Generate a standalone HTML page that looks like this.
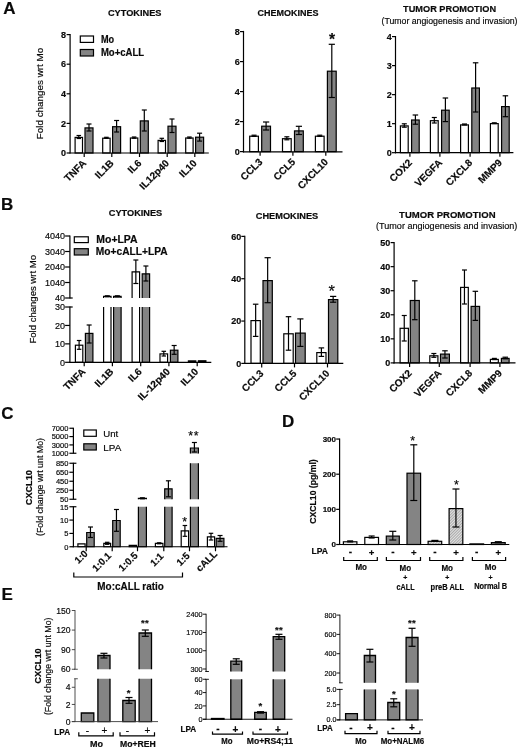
<!DOCTYPE html>
<html><head><meta charset="utf-8"><title>Figure</title>
<style>html,body{margin:0;padding:0;background:#fff}svg{display:block}text{font-family:"Liberation Sans",Arial,sans-serif;fill:#0a0a0a;stroke:#0a0a0a;stroke-width:0.18px}</style>
</head><body>
<svg width="520" height="751" viewBox="0 0 520 751">
<defs><pattern id="hatch" width="2" height="2.4" patternUnits="userSpaceOnUse" patternTransform="rotate(45)"><rect width="2.4" height="2.4" fill="#e2e2e2"/><line x1="0" y1="0" x2="0" y2="2.4" stroke="#666" stroke-width="0.9"/></pattern></defs>
<rect width="520" height="751" fill="#fff"/>
<text x="3.2" y="14.2" font-size="17" font-weight="bold">A</text>
<text x="1" y="210.2" font-size="17" font-weight="bold">B</text>
<text x="1.3" y="419" font-size="17" font-weight="bold">C</text>
<text x="282" y="426.5" font-size="17" font-weight="bold">D</text>
<text x="1.6" y="599.5" font-size="17" font-weight="bold">E</text>
<text x="134.7" y="15.6" font-size="9" font-weight="bold" text-anchor="middle" textLength="53.5" lengthAdjust="spacingAndGlyphs">CYTOKINES</text>
<line x1="70.1" y1="33.9" x2="70.1" y2="153.6" stroke="#000" stroke-width="1.2" stroke-linecap="butt"/>
<line x1="66.6" y1="34.6" x2="70.1" y2="34.6" stroke="#000" stroke-width="1.2" stroke-linecap="butt"/>
<text x="66.1" y="37.84" font-size="9" font-weight="bold" text-anchor="end">8</text>
<line x1="66.6" y1="64.2" x2="70.1" y2="64.2" stroke="#000" stroke-width="1.2" stroke-linecap="butt"/>
<text x="66.1" y="67.44" font-size="9" font-weight="bold" text-anchor="end">6</text>
<line x1="66.6" y1="93.8" x2="70.1" y2="93.8" stroke="#000" stroke-width="1.2" stroke-linecap="butt"/>
<text x="66.1" y="97.04" font-size="9" font-weight="bold" text-anchor="end">4</text>
<line x1="66.6" y1="123.4" x2="70.1" y2="123.4" stroke="#000" stroke-width="1.2" stroke-linecap="butt"/>
<text x="66.1" y="126.64" font-size="9" font-weight="bold" text-anchor="end">2</text>
<line x1="66.6" y1="153" x2="70.1" y2="153" stroke="#000" stroke-width="1.2" stroke-linecap="butt"/>
<text x="66.1" y="156.24" font-size="9" font-weight="bold" text-anchor="end">0</text>
<text x="43.2" y="93.5" font-size="9.6" text-anchor="middle" transform="rotate(-90 43.2 93.5)" textLength="91.5" lengthAdjust="spacingAndGlyphs">Fold changes wrt Mo</text>
<rect x="80.3" y="36" width="13.2" height="6.4" fill="#fff" stroke="#000" stroke-width="1.2"/>
<text x="100.9" y="43" font-size="10" font-weight="bold" textLength="13.2" lengthAdjust="spacingAndGlyphs">Mo</text>
<rect x="80.3" y="49.5" width="13.2" height="6.5" fill="#848484" stroke="#000" stroke-width="1.2"/>
<text x="100.9" y="56.4" font-size="10" font-weight="bold" textLength="43.2" lengthAdjust="spacingAndGlyphs">Mo+cALL</text>
<rect x="75.1" y="137.4" width="7.4" height="15.6" fill="#fff" stroke="#000" stroke-width="1.2"/>
<line x1="78.8" y1="138.5" x2="78.8" y2="135.5" stroke="#000" stroke-width="1.2" stroke-linecap="butt"/>
<line x1="76.55" y1="138.5" x2="81.05" y2="138.5" stroke="#000" stroke-width="1.2" stroke-linecap="butt"/>
<line x1="76.55" y1="135.5" x2="81.05" y2="135.5" stroke="#000" stroke-width="1.2" stroke-linecap="butt"/>
<rect x="85" y="127.9" width="8" height="25.1" fill="#848484" stroke="#000" stroke-width="1.2"/>
<line x1="89" y1="131" x2="89" y2="124" stroke="#000" stroke-width="1.2" stroke-linecap="butt"/>
<line x1="86.5" y1="131" x2="91.5" y2="131" stroke="#000" stroke-width="1.2" stroke-linecap="butt"/>
<line x1="86.5" y1="124" x2="91.5" y2="124" stroke="#000" stroke-width="1.2" stroke-linecap="butt"/>
<rect x="102.7" y="138.2" width="7.4" height="14.8" fill="#fff" stroke="#000" stroke-width="1.2"/>
<line x1="106.4" y1="138.3" x2="106.4" y2="137.3" stroke="#000" stroke-width="1.2" stroke-linecap="butt"/>
<line x1="104.15" y1="138.3" x2="108.65" y2="138.3" stroke="#000" stroke-width="1.2" stroke-linecap="butt"/>
<line x1="104.15" y1="137.3" x2="108.65" y2="137.3" stroke="#000" stroke-width="1.2" stroke-linecap="butt"/>
<rect x="112.6" y="126.7" width="8" height="26.3" fill="#848484" stroke="#000" stroke-width="1.2"/>
<line x1="116.6" y1="132" x2="116.6" y2="120.5" stroke="#000" stroke-width="1.2" stroke-linecap="butt"/>
<line x1="114.1" y1="132" x2="119.1" y2="132" stroke="#000" stroke-width="1.2" stroke-linecap="butt"/>
<line x1="114.1" y1="120.5" x2="119.1" y2="120.5" stroke="#000" stroke-width="1.2" stroke-linecap="butt"/>
<rect x="130.4" y="138" width="7.4" height="15" fill="#fff" stroke="#000" stroke-width="1.2"/>
<line x1="134.1" y1="138.2" x2="134.1" y2="137" stroke="#000" stroke-width="1.2" stroke-linecap="butt"/>
<line x1="131.85" y1="138.2" x2="136.35" y2="138.2" stroke="#000" stroke-width="1.2" stroke-linecap="butt"/>
<line x1="131.85" y1="137" x2="136.35" y2="137" stroke="#000" stroke-width="1.2" stroke-linecap="butt"/>
<rect x="140.3" y="120.9" width="8" height="32.1" fill="#848484" stroke="#000" stroke-width="1.2"/>
<line x1="144.3" y1="131" x2="144.3" y2="110" stroke="#000" stroke-width="1.2" stroke-linecap="butt"/>
<line x1="141.8" y1="131" x2="146.8" y2="131" stroke="#000" stroke-width="1.2" stroke-linecap="butt"/>
<line x1="141.8" y1="110" x2="146.8" y2="110" stroke="#000" stroke-width="1.2" stroke-linecap="butt"/>
<rect x="158.1" y="140.4" width="7.4" height="12.6" fill="#fff" stroke="#000" stroke-width="1.2"/>
<line x1="161.8" y1="141.5" x2="161.8" y2="138.3" stroke="#000" stroke-width="1.2" stroke-linecap="butt"/>
<line x1="159.55" y1="141.5" x2="164.05" y2="141.5" stroke="#000" stroke-width="1.2" stroke-linecap="butt"/>
<line x1="159.55" y1="138.3" x2="164.05" y2="138.3" stroke="#000" stroke-width="1.2" stroke-linecap="butt"/>
<rect x="168" y="126.2" width="8" height="26.8" fill="#848484" stroke="#000" stroke-width="1.2"/>
<line x1="172" y1="132.5" x2="172" y2="119" stroke="#000" stroke-width="1.2" stroke-linecap="butt"/>
<line x1="169.5" y1="132.5" x2="174.5" y2="132.5" stroke="#000" stroke-width="1.2" stroke-linecap="butt"/>
<line x1="169.5" y1="119" x2="174.5" y2="119" stroke="#000" stroke-width="1.2" stroke-linecap="butt"/>
<rect x="185.7" y="138" width="7.4" height="15" fill="#fff" stroke="#000" stroke-width="1.2"/>
<line x1="189.4" y1="138.2" x2="189.4" y2="137" stroke="#000" stroke-width="1.2" stroke-linecap="butt"/>
<line x1="187.15" y1="138.2" x2="191.65" y2="138.2" stroke="#000" stroke-width="1.2" stroke-linecap="butt"/>
<line x1="187.15" y1="137" x2="191.65" y2="137" stroke="#000" stroke-width="1.2" stroke-linecap="butt"/>
<rect x="195.6" y="137.2" width="8" height="15.8" fill="#848484" stroke="#000" stroke-width="1.2"/>
<line x1="199.6" y1="141.1" x2="199.6" y2="133.2" stroke="#000" stroke-width="1.2" stroke-linecap="butt"/>
<line x1="197.1" y1="141.1" x2="202.1" y2="141.1" stroke="#000" stroke-width="1.2" stroke-linecap="butt"/>
<line x1="197.1" y1="133.2" x2="202.1" y2="133.2" stroke="#000" stroke-width="1.2" stroke-linecap="butt"/>
<line x1="69.7" y1="153" x2="208.8" y2="153" stroke="#000" stroke-width="1.2" stroke-linecap="butt"/>
<line x1="84.2" y1="153" x2="84.2" y2="157" stroke="#000" stroke-width="1.2" stroke-linecap="butt"/>
<line x1="111.8" y1="153" x2="111.8" y2="157" stroke="#000" stroke-width="1.2" stroke-linecap="butt"/>
<line x1="139.5" y1="153" x2="139.5" y2="157" stroke="#000" stroke-width="1.2" stroke-linecap="butt"/>
<line x1="167.2" y1="153" x2="167.2" y2="157" stroke="#000" stroke-width="1.2" stroke-linecap="butt"/>
<line x1="194.8" y1="153" x2="194.8" y2="157" stroke="#000" stroke-width="1.2" stroke-linecap="butt"/>
<text x="86.8" y="163.8" font-size="10" font-weight="bold" text-anchor="end" transform="rotate(-45 86.8 163.8)">TNFA</text>
<text x="114.4" y="163.8" font-size="10" font-weight="bold" text-anchor="end" transform="rotate(-45 114.4 163.8)">IL1B</text>
<text x="142.1" y="163.8" font-size="10" font-weight="bold" text-anchor="end" transform="rotate(-45 142.1 163.8)">IL6</text>
<text x="169.8" y="163.8" font-size="10" font-weight="bold" text-anchor="end" transform="rotate(-45 169.8 163.8)">IL12p40</text>
<text x="197.4" y="163.8" font-size="10" font-weight="bold" text-anchor="end" transform="rotate(-45 197.4 163.8)">IL10</text>
<text x="288" y="15.6" font-size="9" font-weight="bold" text-anchor="middle" textLength="61" lengthAdjust="spacingAndGlyphs">CHEMOKINES</text>
<line x1="243.5" y1="30.9" x2="243.5" y2="152.4" stroke="#000" stroke-width="1.2" stroke-linecap="butt"/>
<line x1="240" y1="31.6" x2="243.5" y2="31.6" stroke="#000" stroke-width="1.2" stroke-linecap="butt"/>
<text x="239.8" y="34.84" font-size="9" font-weight="bold" text-anchor="end">8</text>
<line x1="240" y1="61.6" x2="243.5" y2="61.6" stroke="#000" stroke-width="1.2" stroke-linecap="butt"/>
<text x="239.8" y="64.84" font-size="9" font-weight="bold" text-anchor="end">6</text>
<line x1="240" y1="91.6" x2="243.5" y2="91.6" stroke="#000" stroke-width="1.2" stroke-linecap="butt"/>
<text x="239.8" y="94.84" font-size="9" font-weight="bold" text-anchor="end">4</text>
<line x1="240" y1="121.6" x2="243.5" y2="121.6" stroke="#000" stroke-width="1.2" stroke-linecap="butt"/>
<text x="239.8" y="124.84" font-size="9" font-weight="bold" text-anchor="end">2</text>
<line x1="240" y1="151.6" x2="243.5" y2="151.6" stroke="#000" stroke-width="1.2" stroke-linecap="butt"/>
<text x="239.8" y="154.84" font-size="9" font-weight="bold" text-anchor="end">0</text>
<rect x="249.7" y="136.2" width="8.7" height="15.4" fill="#fff" stroke="#000" stroke-width="1.2"/>
<line x1="254.05" y1="136.4" x2="254.05" y2="135.2" stroke="#000" stroke-width="1.2" stroke-linecap="butt"/>
<line x1="251.55" y1="136.4" x2="256.55" y2="136.4" stroke="#000" stroke-width="1.2" stroke-linecap="butt"/>
<line x1="251.55" y1="135.2" x2="256.55" y2="135.2" stroke="#000" stroke-width="1.2" stroke-linecap="butt"/>
<rect x="261.7" y="126.2" width="8.8" height="25.4" fill="#848484" stroke="#000" stroke-width="1.2"/>
<line x1="266.1" y1="130" x2="266.1" y2="122" stroke="#000" stroke-width="1.2" stroke-linecap="butt"/>
<line x1="263" y1="130" x2="269.2" y2="130" stroke="#000" stroke-width="1.2" stroke-linecap="butt"/>
<line x1="263" y1="122" x2="269.2" y2="122" stroke="#000" stroke-width="1.2" stroke-linecap="butt"/>
<rect x="282.5" y="138.7" width="8.7" height="12.9" fill="#fff" stroke="#000" stroke-width="1.2"/>
<line x1="286.85" y1="139.8" x2="286.85" y2="136.8" stroke="#000" stroke-width="1.2" stroke-linecap="butt"/>
<line x1="284.35" y1="139.8" x2="289.35" y2="139.8" stroke="#000" stroke-width="1.2" stroke-linecap="butt"/>
<line x1="284.35" y1="136.8" x2="289.35" y2="136.8" stroke="#000" stroke-width="1.2" stroke-linecap="butt"/>
<rect x="294.5" y="130.9" width="8.8" height="20.7" fill="#848484" stroke="#000" stroke-width="1.2"/>
<line x1="298.9" y1="134.5" x2="298.9" y2="126.3" stroke="#000" stroke-width="1.2" stroke-linecap="butt"/>
<line x1="295.8" y1="134.5" x2="302" y2="134.5" stroke="#000" stroke-width="1.2" stroke-linecap="butt"/>
<line x1="295.8" y1="126.3" x2="302" y2="126.3" stroke="#000" stroke-width="1.2" stroke-linecap="butt"/>
<rect x="315.4" y="136.2" width="8.7" height="15.4" fill="#fff" stroke="#000" stroke-width="1.2"/>
<line x1="319.75" y1="136.4" x2="319.75" y2="135.2" stroke="#000" stroke-width="1.2" stroke-linecap="butt"/>
<line x1="317.25" y1="136.4" x2="322.25" y2="136.4" stroke="#000" stroke-width="1.2" stroke-linecap="butt"/>
<line x1="317.25" y1="135.2" x2="322.25" y2="135.2" stroke="#000" stroke-width="1.2" stroke-linecap="butt"/>
<rect x="327.4" y="71.2" width="8.8" height="80.4" fill="#848484" stroke="#000" stroke-width="1.2"/>
<line x1="331.8" y1="97.5" x2="331.8" y2="44.3" stroke="#000" stroke-width="1.2" stroke-linecap="butt"/>
<line x1="328.7" y1="97.5" x2="334.9" y2="97.5" stroke="#000" stroke-width="1.2" stroke-linecap="butt"/>
<line x1="328.7" y1="44.3" x2="334.9" y2="44.3" stroke="#000" stroke-width="1.2" stroke-linecap="butt"/>
<line x1="242.9" y1="151.8" x2="342.5" y2="151.8" stroke="#000" stroke-width="1.2" stroke-linecap="butt"/>
<line x1="260.1" y1="151.8" x2="260.1" y2="155.8" stroke="#000" stroke-width="1.2" stroke-linecap="butt"/>
<line x1="292.9" y1="151.8" x2="292.9" y2="155.8" stroke="#000" stroke-width="1.2" stroke-linecap="butt"/>
<line x1="325.8" y1="151.8" x2="325.8" y2="155.8" stroke="#000" stroke-width="1.2" stroke-linecap="butt"/>
<text x="263.1" y="162.5" font-size="10" font-weight="bold" text-anchor="end" transform="rotate(-45 263.1 162.5)">CCL3</text>
<text x="295.9" y="162.5" font-size="10" font-weight="bold" text-anchor="end" transform="rotate(-45 295.9 162.5)">CCL5</text>
<text x="328.8" y="162.5" font-size="10" font-weight="bold" text-anchor="end" transform="rotate(-45 328.8 162.5)">CXCL10</text>
<text x="332" y="44.74" font-size="15.6" font-weight="bold" text-anchor="middle">*</text>
<text x="449.6" y="12" font-size="9.4" font-weight="bold" text-anchor="middle" textLength="93" lengthAdjust="spacingAndGlyphs">TUMOR PROMOTION</text>
<text x="449.5" y="23.6" font-size="9" text-anchor="middle" textLength="136" lengthAdjust="spacingAndGlyphs">(Tumor angiogenesis and invasion)</text>
<line x1="395.5" y1="36" x2="395.5" y2="153.3" stroke="#000" stroke-width="1.2" stroke-linecap="butt"/>
<line x1="392" y1="36.58" x2="395.5" y2="36.58" stroke="#000" stroke-width="1.2" stroke-linecap="butt"/>
<text x="391.7" y="39.82" font-size="9" font-weight="bold" text-anchor="end">4</text>
<line x1="392" y1="65.61" x2="395.5" y2="65.61" stroke="#000" stroke-width="1.2" stroke-linecap="butt"/>
<text x="391.7" y="68.85" font-size="9" font-weight="bold" text-anchor="end">3</text>
<line x1="392" y1="94.64" x2="395.5" y2="94.64" stroke="#000" stroke-width="1.2" stroke-linecap="butt"/>
<text x="391.7" y="97.88" font-size="9" font-weight="bold" text-anchor="end">2</text>
<line x1="392" y1="123.67" x2="395.5" y2="123.67" stroke="#000" stroke-width="1.2" stroke-linecap="butt"/>
<text x="391.7" y="126.91" font-size="9" font-weight="bold" text-anchor="end">1</text>
<line x1="392" y1="152.7" x2="395.5" y2="152.7" stroke="#000" stroke-width="1.2" stroke-linecap="butt"/>
<text x="391.7" y="155.94" font-size="9" font-weight="bold" text-anchor="end">0</text>
<rect x="400.4" y="125.9" width="7.8" height="26.8" fill="#fff" stroke="#000" stroke-width="1.2"/>
<line x1="404.3" y1="127.2" x2="404.3" y2="123.8" stroke="#000" stroke-width="1.2" stroke-linecap="butt"/>
<line x1="401.8" y1="127.2" x2="406.8" y2="127.2" stroke="#000" stroke-width="1.2" stroke-linecap="butt"/>
<line x1="401.8" y1="123.8" x2="406.8" y2="123.8" stroke="#000" stroke-width="1.2" stroke-linecap="butt"/>
<rect x="411.6" y="120" width="7.6" height="32.7" fill="#848484" stroke="#000" stroke-width="1.2"/>
<line x1="415.4" y1="124.2" x2="415.4" y2="115" stroke="#000" stroke-width="1.2" stroke-linecap="butt"/>
<line x1="412.65" y1="124.2" x2="418.15" y2="124.2" stroke="#000" stroke-width="1.2" stroke-linecap="butt"/>
<line x1="412.65" y1="115" x2="418.15" y2="115" stroke="#000" stroke-width="1.2" stroke-linecap="butt"/>
<rect x="430.4" y="120.7" width="7.8" height="32" fill="#fff" stroke="#000" stroke-width="1.2"/>
<line x1="434.3" y1="123" x2="434.3" y2="117.5" stroke="#000" stroke-width="1.2" stroke-linecap="butt"/>
<line x1="431.8" y1="123" x2="436.8" y2="123" stroke="#000" stroke-width="1.2" stroke-linecap="butt"/>
<line x1="431.8" y1="117.5" x2="436.8" y2="117.5" stroke="#000" stroke-width="1.2" stroke-linecap="butt"/>
<rect x="441.6" y="110.2" width="7.6" height="42.5" fill="#848484" stroke="#000" stroke-width="1.2"/>
<line x1="445.4" y1="121.6" x2="445.4" y2="98" stroke="#000" stroke-width="1.2" stroke-linecap="butt"/>
<line x1="442.65" y1="121.6" x2="448.15" y2="121.6" stroke="#000" stroke-width="1.2" stroke-linecap="butt"/>
<line x1="442.65" y1="98" x2="448.15" y2="98" stroke="#000" stroke-width="1.2" stroke-linecap="butt"/>
<rect x="460.6" y="124.9" width="7.8" height="27.8" fill="#fff" stroke="#000" stroke-width="1.2"/>
<line x1="464.5" y1="125" x2="464.5" y2="124" stroke="#000" stroke-width="1.2" stroke-linecap="butt"/>
<line x1="462" y1="125" x2="467" y2="125" stroke="#000" stroke-width="1.2" stroke-linecap="butt"/>
<line x1="462" y1="124" x2="467" y2="124" stroke="#000" stroke-width="1.2" stroke-linecap="butt"/>
<rect x="471.8" y="88" width="7.6" height="64.7" fill="#848484" stroke="#000" stroke-width="1.2"/>
<line x1="475.6" y1="112" x2="475.6" y2="62.8" stroke="#000" stroke-width="1.2" stroke-linecap="butt"/>
<line x1="472.85" y1="112" x2="478.35" y2="112" stroke="#000" stroke-width="1.2" stroke-linecap="butt"/>
<line x1="472.85" y1="62.8" x2="478.35" y2="62.8" stroke="#000" stroke-width="1.2" stroke-linecap="butt"/>
<rect x="490.4" y="123.6" width="7.8" height="29.1" fill="#fff" stroke="#000" stroke-width="1.2"/>
<line x1="494.3" y1="123.6" x2="494.3" y2="122.8" stroke="#000" stroke-width="1.2" stroke-linecap="butt"/>
<line x1="491.8" y1="123.6" x2="496.8" y2="123.6" stroke="#000" stroke-width="1.2" stroke-linecap="butt"/>
<line x1="491.8" y1="122.8" x2="496.8" y2="122.8" stroke="#000" stroke-width="1.2" stroke-linecap="butt"/>
<rect x="501.6" y="106.6" width="7.6" height="46.1" fill="#848484" stroke="#000" stroke-width="1.2"/>
<line x1="505.4" y1="116.7" x2="505.4" y2="95.8" stroke="#000" stroke-width="1.2" stroke-linecap="butt"/>
<line x1="502.65" y1="116.7" x2="508.15" y2="116.7" stroke="#000" stroke-width="1.2" stroke-linecap="butt"/>
<line x1="502.65" y1="95.8" x2="508.15" y2="95.8" stroke="#000" stroke-width="1.2" stroke-linecap="butt"/>
<line x1="394.9" y1="152.7" x2="513.4" y2="152.7" stroke="#000" stroke-width="1.2" stroke-linecap="butt"/>
<line x1="409.9" y1="152.7" x2="409.9" y2="156.7" stroke="#000" stroke-width="1.2" stroke-linecap="butt"/>
<line x1="439.9" y1="152.7" x2="439.9" y2="156.7" stroke="#000" stroke-width="1.2" stroke-linecap="butt"/>
<line x1="470.1" y1="152.7" x2="470.1" y2="156.7" stroke="#000" stroke-width="1.2" stroke-linecap="butt"/>
<line x1="499.9" y1="152.7" x2="499.9" y2="156.7" stroke="#000" stroke-width="1.2" stroke-linecap="butt"/>
<text x="412.8" y="163.3" font-size="10" font-weight="bold" text-anchor="end" transform="rotate(-45 412.8 163.3)">COX2</text>
<text x="442.8" y="163.3" font-size="10" font-weight="bold" text-anchor="end" transform="rotate(-45 442.8 163.3)">VEGFA</text>
<text x="473" y="163.3" font-size="10" font-weight="bold" text-anchor="end" transform="rotate(-45 473 163.3)">CXCL8</text>
<text x="502.8" y="163.3" font-size="10" font-weight="bold" text-anchor="end" transform="rotate(-45 502.8 163.3)">MMP9</text>
<text x="135.5" y="215.7" font-size="9" font-weight="bold" text-anchor="middle" textLength="53.5" lengthAdjust="spacingAndGlyphs">CYTOKINES</text>
<line x1="69.9" y1="235.4" x2="69.9" y2="298.6" stroke="#000" stroke-width="1.2" stroke-linecap="butt"/>
<line x1="65.1" y1="236" x2="69.9" y2="236" stroke="#000" stroke-width="1.2" stroke-linecap="butt"/>
<text x="65" y="239.2" font-size="9" text-anchor="end">4040</text>
<line x1="65.1" y1="251.5" x2="69.9" y2="251.5" stroke="#000" stroke-width="1.2" stroke-linecap="butt"/>
<text x="65" y="254.7" font-size="9" text-anchor="end">3040</text>
<line x1="65.1" y1="267" x2="69.9" y2="267" stroke="#000" stroke-width="1.2" stroke-linecap="butt"/>
<text x="65" y="270.2" font-size="9" text-anchor="end">2040</text>
<line x1="65.1" y1="282.5" x2="69.9" y2="282.5" stroke="#000" stroke-width="1.2" stroke-linecap="butt"/>
<text x="65" y="285.7" font-size="9" text-anchor="end">1040</text>
<line x1="65.1" y1="298" x2="69.9" y2="298" stroke="#000" stroke-width="1.2" stroke-linecap="butt"/>
<text x="65" y="301.2" font-size="9" text-anchor="end">40</text>
<line x1="69.9" y1="298" x2="72.7" y2="298" stroke="#000" stroke-width="1.2" stroke-linecap="butt"/>
<line x1="69.9" y1="306.4" x2="69.9" y2="362.9" stroke="#000" stroke-width="1.2" stroke-linecap="butt"/>
<line x1="69.9" y1="307" x2="72.7" y2="307" stroke="#000" stroke-width="1.2" stroke-linecap="butt"/>
<line x1="65.1" y1="307.01" x2="69.9" y2="307.01" stroke="#000" stroke-width="1.2" stroke-linecap="butt"/>
<text x="65" y="310.21" font-size="9" text-anchor="end">30</text>
<line x1="65.1" y1="325.44" x2="69.9" y2="325.44" stroke="#000" stroke-width="1.2" stroke-linecap="butt"/>
<text x="65" y="328.64" font-size="9" text-anchor="end">20</text>
<line x1="65.1" y1="343.87" x2="69.9" y2="343.87" stroke="#000" stroke-width="1.2" stroke-linecap="butt"/>
<text x="65" y="347.07" font-size="9" text-anchor="end">10</text>
<line x1="65.1" y1="362.3" x2="69.9" y2="362.3" stroke="#000" stroke-width="1.2" stroke-linecap="butt"/>
<text x="65" y="365.5" font-size="9" text-anchor="end">0</text>
<text x="36.3" y="299.3" font-size="9.4" text-anchor="middle" transform="rotate(-90 36.3 299.3)" textLength="88.5" lengthAdjust="spacingAndGlyphs">Fold changes wrt Mo</text>
<rect x="74.3" y="236.8" width="14" height="5.8" fill="#fff" stroke="#000" stroke-width="1.2"/>
<text x="96.3" y="243.2" font-size="10" font-weight="bold" textLength="41.3" lengthAdjust="spacingAndGlyphs">Mo+LPA</text>
<rect x="74.3" y="248.7" width="14" height="6.3" fill="#848484" stroke="#000" stroke-width="1.2"/>
<text x="95.8" y="255.3" font-size="10" font-weight="bold" textLength="71.8" lengthAdjust="spacingAndGlyphs">Mo+cALL+LPA</text>
<rect x="75.4" y="345.2" width="7.4" height="17.1" fill="#fff" stroke="#000" stroke-width="1.2"/>
<line x1="79.1" y1="349.3" x2="79.1" y2="340.5" stroke="#000" stroke-width="1.2" stroke-linecap="butt"/>
<line x1="76.85" y1="349.3" x2="81.35" y2="349.3" stroke="#000" stroke-width="1.2" stroke-linecap="butt"/>
<line x1="76.85" y1="340.5" x2="81.35" y2="340.5" stroke="#000" stroke-width="1.2" stroke-linecap="butt"/>
<rect x="85.4" y="333.4" width="7.5" height="28.9" fill="#848484" stroke="#000" stroke-width="1.2"/>
<line x1="89.15" y1="343" x2="89.15" y2="325" stroke="#000" stroke-width="1.2" stroke-linecap="butt"/>
<line x1="86.65" y1="343" x2="91.65" y2="343" stroke="#000" stroke-width="1.2" stroke-linecap="butt"/>
<line x1="86.65" y1="325" x2="91.65" y2="325" stroke="#000" stroke-width="1.2" stroke-linecap="butt"/>
<rect x="103.6" y="307" width="7.4" height="55.3" fill="#fff"/>
<path d="M103.6 307V362.3H111V307" fill="none" stroke="#000" stroke-width="1.2"/>
<rect x="103.6" y="296.3" width="7.4" height="1.7" fill="#fff"/>
<path d="M103.6 298V296.3H111V298" fill="none" stroke="#000" stroke-width="1.2"/>
<line x1="107.3" y1="296.8" x2="107.3" y2="295.8" stroke="#000" stroke-width="1.2" stroke-linecap="butt"/>
<line x1="104.8" y1="296.8" x2="109.8" y2="296.8" stroke="#000" stroke-width="1.2" stroke-linecap="butt"/>
<line x1="104.8" y1="295.8" x2="109.8" y2="295.8" stroke="#000" stroke-width="1.2" stroke-linecap="butt"/>
<rect x="113.6" y="307" width="7.5" height="55.3" fill="#848484"/>
<path d="M113.6 307V362.3H121.1V307" fill="none" stroke="#000" stroke-width="1.2"/>
<rect x="113.6" y="296.3" width="7.5" height="1.7" fill="#848484"/>
<path d="M113.6 298V296.3H121.1V298" fill="none" stroke="#000" stroke-width="1.2"/>
<line x1="117.35" y1="296.8" x2="117.35" y2="295.8" stroke="#000" stroke-width="1.2" stroke-linecap="butt"/>
<line x1="114.85" y1="296.8" x2="119.85" y2="296.8" stroke="#000" stroke-width="1.2" stroke-linecap="butt"/>
<line x1="114.85" y1="295.8" x2="119.85" y2="295.8" stroke="#000" stroke-width="1.2" stroke-linecap="butt"/>
<rect x="132.1" y="307" width="7.5" height="55.3" fill="#fff"/>
<path d="M132.1 307V362.3H139.6V307" fill="none" stroke="#000" stroke-width="1.2"/>
<rect x="132.1" y="271.8" width="7.5" height="26.2" fill="#fff"/>
<path d="M132.1 298V271.8H139.6V298" fill="none" stroke="#000" stroke-width="1.2"/>
<line x1="135.85" y1="283.5" x2="135.85" y2="260" stroke="#000" stroke-width="1.2" stroke-linecap="butt"/>
<line x1="133.35" y1="283.5" x2="138.35" y2="283.5" stroke="#000" stroke-width="1.2" stroke-linecap="butt"/>
<line x1="133.35" y1="260" x2="138.35" y2="260" stroke="#000" stroke-width="1.2" stroke-linecap="butt"/>
<rect x="142.2" y="307" width="7.4" height="55.3" fill="#848484"/>
<path d="M142.2 307V362.3H149.6V307" fill="none" stroke="#000" stroke-width="1.2"/>
<rect x="142.2" y="273.8" width="7.4" height="24.2" fill="#848484"/>
<path d="M142.2 298V273.8H149.6V298" fill="none" stroke="#000" stroke-width="1.2"/>
<line x1="145.9" y1="281" x2="145.9" y2="266" stroke="#000" stroke-width="1.2" stroke-linecap="butt"/>
<line x1="143.4" y1="281" x2="148.4" y2="281" stroke="#000" stroke-width="1.2" stroke-linecap="butt"/>
<line x1="143.4" y1="266" x2="148.4" y2="266" stroke="#000" stroke-width="1.2" stroke-linecap="butt"/>
<rect x="160" y="353.9" width="7.6" height="8.4" fill="#fff" stroke="#000" stroke-width="1.2"/>
<line x1="163.8" y1="356" x2="163.8" y2="351.3" stroke="#000" stroke-width="1.2" stroke-linecap="butt"/>
<line x1="161.55" y1="356" x2="166.05" y2="356" stroke="#000" stroke-width="1.2" stroke-linecap="butt"/>
<line x1="161.55" y1="351.3" x2="166.05" y2="351.3" stroke="#000" stroke-width="1.2" stroke-linecap="butt"/>
<rect x="170.4" y="350.2" width="7.5" height="12.1" fill="#848484" stroke="#000" stroke-width="1.2"/>
<line x1="174.15" y1="354.3" x2="174.15" y2="345.5" stroke="#000" stroke-width="1.2" stroke-linecap="butt"/>
<line x1="171.65" y1="354.3" x2="176.65" y2="354.3" stroke="#000" stroke-width="1.2" stroke-linecap="butt"/>
<line x1="171.65" y1="345.5" x2="176.65" y2="345.5" stroke="#000" stroke-width="1.2" stroke-linecap="butt"/>
<rect x="188.4" y="360.9" width="7.4" height="1.4" fill="#000" stroke="#000" stroke-width="1.2"/>
<rect x="198.4" y="360.8" width="7.5" height="1.5" fill="#000" stroke="#000" stroke-width="1.2"/>
<line x1="69.3" y1="362.3" x2="211.3" y2="362.3" stroke="#000" stroke-width="1.2" stroke-linecap="butt"/>
<line x1="84.2" y1="362.3" x2="84.2" y2="366.3" stroke="#000" stroke-width="1.2" stroke-linecap="butt"/>
<line x1="112.4" y1="362.3" x2="112.4" y2="366.3" stroke="#000" stroke-width="1.2" stroke-linecap="butt"/>
<line x1="140.7" y1="362.3" x2="140.7" y2="366.3" stroke="#000" stroke-width="1.2" stroke-linecap="butt"/>
<line x1="168.9" y1="362.3" x2="168.9" y2="366.3" stroke="#000" stroke-width="1.2" stroke-linecap="butt"/>
<line x1="197.2" y1="362.3" x2="197.2" y2="366.3" stroke="#000" stroke-width="1.2" stroke-linecap="butt"/>
<text x="86" y="372.3" font-size="10" font-weight="bold" text-anchor="end" transform="rotate(-45 86 372.3)">TNFA</text>
<text x="114.2" y="372.3" font-size="10" font-weight="bold" text-anchor="end" transform="rotate(-45 114.2 372.3)">IL1B</text>
<text x="142.5" y="372.3" font-size="10" font-weight="bold" text-anchor="end" transform="rotate(-45 142.5 372.3)">IL6</text>
<text x="170.7" y="372.3" font-size="10" font-weight="bold" text-anchor="end" transform="rotate(-45 170.7 372.3)">IL-12p40</text>
<text x="199" y="372.3" font-size="10" font-weight="bold" text-anchor="end" transform="rotate(-45 199 372.3)">IL10</text>
<text x="287" y="218.7" font-size="9" font-weight="bold" text-anchor="middle" textLength="62.5" lengthAdjust="spacingAndGlyphs">CHEMOKINES</text>
<line x1="244.8" y1="235.78" x2="244.8" y2="364" stroke="#000" stroke-width="1.2" stroke-linecap="butt"/>
<line x1="241.3" y1="236.38" x2="244.8" y2="236.38" stroke="#000" stroke-width="1.2" stroke-linecap="butt"/>
<text x="241.2" y="239.62" font-size="9" font-weight="bold" text-anchor="end">60</text>
<line x1="241.3" y1="278.72" x2="244.8" y2="278.72" stroke="#000" stroke-width="1.2" stroke-linecap="butt"/>
<text x="241.2" y="281.96" font-size="9" font-weight="bold" text-anchor="end">40</text>
<line x1="241.3" y1="321.06" x2="244.8" y2="321.06" stroke="#000" stroke-width="1.2" stroke-linecap="butt"/>
<text x="241.2" y="324.3" font-size="9" font-weight="bold" text-anchor="end">20</text>
<line x1="241.3" y1="363.4" x2="244.8" y2="363.4" stroke="#000" stroke-width="1.2" stroke-linecap="butt"/>
<text x="241.2" y="366.64" font-size="9" font-weight="bold" text-anchor="end">0</text>
<rect x="251" y="320.6" width="9.3" height="42.8" fill="#fff" stroke="#000" stroke-width="1.2"/>
<line x1="255.65" y1="336.4" x2="255.65" y2="304.2" stroke="#000" stroke-width="1.2" stroke-linecap="butt"/>
<line x1="252.9" y1="336.4" x2="258.4" y2="336.4" stroke="#000" stroke-width="1.2" stroke-linecap="butt"/>
<line x1="252.9" y1="304.2" x2="258.4" y2="304.2" stroke="#000" stroke-width="1.2" stroke-linecap="butt"/>
<rect x="263" y="280.6" width="9.3" height="82.8" fill="#848484" stroke="#000" stroke-width="1.2"/>
<line x1="267.65" y1="302.7" x2="267.65" y2="257.7" stroke="#000" stroke-width="1.2" stroke-linecap="butt"/>
<line x1="264.55" y1="302.7" x2="270.75" y2="302.7" stroke="#000" stroke-width="1.2" stroke-linecap="butt"/>
<line x1="264.55" y1="257.7" x2="270.75" y2="257.7" stroke="#000" stroke-width="1.2" stroke-linecap="butt"/>
<rect x="283.8" y="333.8" width="9.4" height="29.6" fill="#fff" stroke="#000" stroke-width="1.2"/>
<line x1="288.5" y1="350.2" x2="288.5" y2="316.7" stroke="#000" stroke-width="1.2" stroke-linecap="butt"/>
<line x1="285.75" y1="350.2" x2="291.25" y2="350.2" stroke="#000" stroke-width="1.2" stroke-linecap="butt"/>
<line x1="285.75" y1="316.7" x2="291.25" y2="316.7" stroke="#000" stroke-width="1.2" stroke-linecap="butt"/>
<rect x="295.5" y="333.1" width="9.7" height="30.3" fill="#848484" stroke="#000" stroke-width="1.2"/>
<line x1="300.35" y1="346.4" x2="300.35" y2="318.9" stroke="#000" stroke-width="1.2" stroke-linecap="butt"/>
<line x1="297.25" y1="346.4" x2="303.45" y2="346.4" stroke="#000" stroke-width="1.2" stroke-linecap="butt"/>
<line x1="297.25" y1="318.9" x2="303.45" y2="318.9" stroke="#000" stroke-width="1.2" stroke-linecap="butt"/>
<rect x="316.8" y="352.6" width="9.2" height="10.8" fill="#fff" stroke="#000" stroke-width="1.2"/>
<line x1="321.4" y1="356.4" x2="321.4" y2="347.9" stroke="#000" stroke-width="1.2" stroke-linecap="butt"/>
<line x1="318.65" y1="356.4" x2="324.15" y2="356.4" stroke="#000" stroke-width="1.2" stroke-linecap="butt"/>
<line x1="318.65" y1="347.9" x2="324.15" y2="347.9" stroke="#000" stroke-width="1.2" stroke-linecap="butt"/>
<rect x="328.5" y="299.6" width="9.3" height="63.8" fill="#848484" stroke="#000" stroke-width="1.2"/>
<line x1="333.15" y1="302.2" x2="333.15" y2="296.4" stroke="#000" stroke-width="1.2" stroke-linecap="butt"/>
<line x1="330.05" y1="302.2" x2="336.25" y2="302.2" stroke="#000" stroke-width="1.2" stroke-linecap="butt"/>
<line x1="330.05" y1="296.4" x2="336.25" y2="296.4" stroke="#000" stroke-width="1.2" stroke-linecap="butt"/>
<line x1="244.2" y1="363.4" x2="343.3" y2="363.4" stroke="#000" stroke-width="1.2" stroke-linecap="butt"/>
<line x1="261.7" y1="363.4" x2="261.7" y2="367.4" stroke="#000" stroke-width="1.2" stroke-linecap="butt"/>
<line x1="294.5" y1="363.4" x2="294.5" y2="367.4" stroke="#000" stroke-width="1.2" stroke-linecap="butt"/>
<line x1="327.5" y1="363.4" x2="327.5" y2="367.4" stroke="#000" stroke-width="1.2" stroke-linecap="butt"/>
<text x="264.3" y="374" font-size="10" font-weight="bold" text-anchor="end" transform="rotate(-45 264.3 374)">CCL3</text>
<text x="297.1" y="374" font-size="10" font-weight="bold" text-anchor="end" transform="rotate(-45 297.1 374)">CCL5</text>
<text x="330.1" y="374" font-size="10" font-weight="bold" text-anchor="end" transform="rotate(-45 330.1 374)">CXCL10</text>
<text x="331.8" y="296.66" font-size="16.5" text-anchor="middle">*</text>
<text x="447.3" y="217.5" font-size="9.4" font-weight="bold" text-anchor="middle" textLength="96.5" lengthAdjust="spacingAndGlyphs">TUMOR PROMOTION</text>
<text x="446.7" y="228.9" font-size="9.3" text-anchor="middle" textLength="141.4" lengthAdjust="spacingAndGlyphs">(Tumor angiogenesis and invasion)</text>
<line x1="394.1" y1="242" x2="394.1" y2="363.5" stroke="#000" stroke-width="1.2" stroke-linecap="butt"/>
<line x1="390.6" y1="242.6" x2="394.1" y2="242.6" stroke="#000" stroke-width="1.2" stroke-linecap="butt"/>
<text x="390.2" y="245.84" font-size="9" font-weight="bold" text-anchor="end">50</text>
<line x1="390.6" y1="266.66" x2="394.1" y2="266.66" stroke="#000" stroke-width="1.2" stroke-linecap="butt"/>
<text x="390.2" y="269.9" font-size="9" font-weight="bold" text-anchor="end">40</text>
<line x1="390.6" y1="290.72" x2="394.1" y2="290.72" stroke="#000" stroke-width="1.2" stroke-linecap="butt"/>
<text x="390.2" y="293.96" font-size="9" font-weight="bold" text-anchor="end">30</text>
<line x1="390.6" y1="314.78" x2="394.1" y2="314.78" stroke="#000" stroke-width="1.2" stroke-linecap="butt"/>
<text x="390.2" y="318.02" font-size="9" font-weight="bold" text-anchor="end">20</text>
<line x1="390.6" y1="338.84" x2="394.1" y2="338.84" stroke="#000" stroke-width="1.2" stroke-linecap="butt"/>
<text x="390.2" y="342.08" font-size="9" font-weight="bold" text-anchor="end">10</text>
<line x1="390.6" y1="362.9" x2="394.1" y2="362.9" stroke="#000" stroke-width="1.2" stroke-linecap="butt"/>
<text x="390.2" y="366.14" font-size="9" font-weight="bold" text-anchor="end">0</text>
<rect x="400.1" y="328.3" width="8.3" height="34.6" fill="#fff" stroke="#000" stroke-width="1.2"/>
<line x1="404.25" y1="341" x2="404.25" y2="315.5" stroke="#000" stroke-width="1.2" stroke-linecap="butt"/>
<line x1="401.75" y1="341" x2="406.75" y2="341" stroke="#000" stroke-width="1.2" stroke-linecap="butt"/>
<line x1="401.75" y1="315.5" x2="406.75" y2="315.5" stroke="#000" stroke-width="1.2" stroke-linecap="butt"/>
<rect x="410.3" y="300.5" width="9" height="62.4" fill="#848484" stroke="#000" stroke-width="1.2"/>
<line x1="414.8" y1="319.7" x2="414.8" y2="280.8" stroke="#000" stroke-width="1.2" stroke-linecap="butt"/>
<line x1="412.05" y1="319.7" x2="417.55" y2="319.7" stroke="#000" stroke-width="1.2" stroke-linecap="butt"/>
<line x1="412.05" y1="280.8" x2="417.55" y2="280.8" stroke="#000" stroke-width="1.2" stroke-linecap="butt"/>
<rect x="429.8" y="355.8" width="8.1" height="7.1" fill="#fff" stroke="#000" stroke-width="1.2"/>
<line x1="433.85" y1="357.3" x2="433.85" y2="353.5" stroke="#000" stroke-width="1.2" stroke-linecap="butt"/>
<line x1="431.35" y1="357.3" x2="436.35" y2="357.3" stroke="#000" stroke-width="1.2" stroke-linecap="butt"/>
<line x1="431.35" y1="353.5" x2="436.35" y2="353.5" stroke="#000" stroke-width="1.2" stroke-linecap="butt"/>
<rect x="440.5" y="354.1" width="8.9" height="8.8" fill="#848484" stroke="#000" stroke-width="1.2"/>
<line x1="444.95" y1="358" x2="444.95" y2="350.8" stroke="#000" stroke-width="1.2" stroke-linecap="butt"/>
<line x1="442.2" y1="358" x2="447.7" y2="358" stroke="#000" stroke-width="1.2" stroke-linecap="butt"/>
<line x1="442.2" y1="350.8" x2="447.7" y2="350.8" stroke="#000" stroke-width="1.2" stroke-linecap="butt"/>
<rect x="460.6" y="287.4" width="7.7" height="75.5" fill="#fff" stroke="#000" stroke-width="1.2"/>
<line x1="464.45" y1="304" x2="464.45" y2="270" stroke="#000" stroke-width="1.2" stroke-linecap="butt"/>
<line x1="461.95" y1="304" x2="466.95" y2="304" stroke="#000" stroke-width="1.2" stroke-linecap="butt"/>
<line x1="461.95" y1="270" x2="466.95" y2="270" stroke="#000" stroke-width="1.2" stroke-linecap="butt"/>
<rect x="471.1" y="306.4" width="8.5" height="56.5" fill="#848484" stroke="#000" stroke-width="1.2"/>
<line x1="475.35" y1="320.4" x2="475.35" y2="291.3" stroke="#000" stroke-width="1.2" stroke-linecap="butt"/>
<line x1="472.6" y1="320.4" x2="478.1" y2="320.4" stroke="#000" stroke-width="1.2" stroke-linecap="butt"/>
<line x1="472.6" y1="291.3" x2="478.1" y2="291.3" stroke="#000" stroke-width="1.2" stroke-linecap="butt"/>
<rect x="490.4" y="359.4" width="7.9" height="3.5" fill="#fff" stroke="#000" stroke-width="1.2"/>
<line x1="494.35" y1="359.6" x2="494.35" y2="358.4" stroke="#000" stroke-width="1.2" stroke-linecap="butt"/>
<line x1="491.85" y1="359.6" x2="496.85" y2="359.6" stroke="#000" stroke-width="1.2" stroke-linecap="butt"/>
<line x1="491.85" y1="358.4" x2="496.85" y2="358.4" stroke="#000" stroke-width="1.2" stroke-linecap="butt"/>
<rect x="501.4" y="358.4" width="7.7" height="4.5" fill="#848484" stroke="#000" stroke-width="1.2"/>
<line x1="505.25" y1="358.8" x2="505.25" y2="357.2" stroke="#000" stroke-width="1.2" stroke-linecap="butt"/>
<line x1="502.5" y1="358.8" x2="508" y2="358.8" stroke="#000" stroke-width="1.2" stroke-linecap="butt"/>
<line x1="502.5" y1="357.2" x2="508" y2="357.2" stroke="#000" stroke-width="1.2" stroke-linecap="butt"/>
<line x1="393.5" y1="362.9" x2="515.5" y2="362.9" stroke="#000" stroke-width="1.2" stroke-linecap="butt"/>
<line x1="409.6" y1="362.9" x2="409.6" y2="366.9" stroke="#000" stroke-width="1.2" stroke-linecap="butt"/>
<line x1="439.3" y1="362.9" x2="439.3" y2="366.9" stroke="#000" stroke-width="1.2" stroke-linecap="butt"/>
<line x1="470.1" y1="362.9" x2="470.1" y2="366.9" stroke="#000" stroke-width="1.2" stroke-linecap="butt"/>
<line x1="499.9" y1="362.9" x2="499.9" y2="366.9" stroke="#000" stroke-width="1.2" stroke-linecap="butt"/>
<text x="412.5" y="373.8" font-size="10" font-weight="bold" text-anchor="end" transform="rotate(-45 412.5 373.8)">COX2</text>
<text x="442.2" y="373.8" font-size="10" font-weight="bold" text-anchor="end" transform="rotate(-45 442.2 373.8)">VEGFA</text>
<text x="473" y="373.8" font-size="10" font-weight="bold" text-anchor="end" transform="rotate(-45 473 373.8)">CXCL8</text>
<text x="502.8" y="373.8" font-size="10" font-weight="bold" text-anchor="end" transform="rotate(-45 502.8 373.8)">MMP9</text>
<line x1="73.4" y1="427.65" x2="73.4" y2="453.85" stroke="#000" stroke-width="1.2" stroke-linecap="butt"/>
<line x1="73.4" y1="453.25" x2="76.4" y2="453.25" stroke="#000" stroke-width="1.2" stroke-linecap="butt"/>
<line x1="73.4" y1="462.65" x2="73.4" y2="499.85" stroke="#000" stroke-width="1.2" stroke-linecap="butt"/>
<line x1="73.4" y1="463.25" x2="76.4" y2="463.25" stroke="#000" stroke-width="1.2" stroke-linecap="butt"/>
<line x1="73.4" y1="499.25" x2="76.4" y2="499.25" stroke="#000" stroke-width="1.2" stroke-linecap="butt"/>
<line x1="73.4" y1="506.15" x2="73.4" y2="547.35" stroke="#000" stroke-width="1.2" stroke-linecap="butt"/>
<line x1="73.4" y1="506.75" x2="76.4" y2="506.75" stroke="#000" stroke-width="1.2" stroke-linecap="butt"/>
<line x1="69.4" y1="428.25" x2="73.4" y2="428.25" stroke="#000" stroke-width="1.2" stroke-linecap="butt"/>
<text x="68.4" y="431.05" font-size="7.5" text-anchor="end">7000</text>
<line x1="69.4" y1="436.58" x2="73.4" y2="436.58" stroke="#000" stroke-width="1.2" stroke-linecap="butt"/>
<text x="68.4" y="439.38" font-size="7.5" text-anchor="end">5000</text>
<line x1="69.4" y1="444.92" x2="73.4" y2="444.92" stroke="#000" stroke-width="1.2" stroke-linecap="butt"/>
<text x="68.4" y="447.72" font-size="7.5" text-anchor="end">3000</text>
<line x1="69.4" y1="453.25" x2="73.4" y2="453.25" stroke="#000" stroke-width="1.2" stroke-linecap="butt"/>
<text x="68.4" y="456.05" font-size="7.5" text-anchor="end">1000</text>
<line x1="69.4" y1="463.25" x2="73.4" y2="463.25" stroke="#000" stroke-width="1.2" stroke-linecap="butt"/>
<text x="68.4" y="466.05" font-size="7.5" text-anchor="end">850</text>
<line x1="69.4" y1="472.25" x2="73.4" y2="472.25" stroke="#000" stroke-width="1.2" stroke-linecap="butt"/>
<text x="68.4" y="475.05" font-size="7.5" text-anchor="end">650</text>
<line x1="69.4" y1="481.25" x2="73.4" y2="481.25" stroke="#000" stroke-width="1.2" stroke-linecap="butt"/>
<text x="68.4" y="484.05" font-size="7.5" text-anchor="end">450</text>
<line x1="69.4" y1="490.25" x2="73.4" y2="490.25" stroke="#000" stroke-width="1.2" stroke-linecap="butt"/>
<text x="68.4" y="493.05" font-size="7.5" text-anchor="end">250</text>
<line x1="69.4" y1="499.25" x2="73.4" y2="499.25" stroke="#000" stroke-width="1.2" stroke-linecap="butt"/>
<text x="68.4" y="502.05" font-size="7.5" text-anchor="end">50</text>
<line x1="69.4" y1="506.75" x2="73.4" y2="506.75" stroke="#000" stroke-width="1.2" stroke-linecap="butt"/>
<text x="68.4" y="509.55" font-size="7.5" text-anchor="end">15</text>
<line x1="69.4" y1="520.08" x2="73.4" y2="520.08" stroke="#000" stroke-width="1.2" stroke-linecap="butt"/>
<text x="68.4" y="522.88" font-size="7.5" text-anchor="end">10</text>
<line x1="69.4" y1="533.42" x2="73.4" y2="533.42" stroke="#000" stroke-width="1.2" stroke-linecap="butt"/>
<text x="68.4" y="536.22" font-size="7.5" text-anchor="end">5</text>
<line x1="69.4" y1="546.75" x2="73.4" y2="546.75" stroke="#000" stroke-width="1.2" stroke-linecap="butt"/>
<text x="68.4" y="549.55" font-size="7.5" text-anchor="end">0</text>
<text x="32.2" y="487.7" font-size="9.4" font-weight="bold" text-anchor="middle" transform="rotate(-90 32.2 487.7)" textLength="35" lengthAdjust="spacingAndGlyphs">CXCL10</text>
<text x="43" y="487" font-size="9" text-anchor="middle" transform="rotate(-90 43 487)" textLength="98" lengthAdjust="spacingAndGlyphs">(Fold change wrt unt Mo)</text>
<rect x="83.8" y="430" width="12.5" height="6.3" fill="#fff" stroke="#000" stroke-width="1.2"/>
<text x="103.3" y="437" font-size="9.6">Unt</text>
<rect x="83.8" y="443.8" width="12.5" height="6.2" fill="#848484" stroke="#000" stroke-width="1.2"/>
<text x="103.3" y="450.6" font-size="9.9">LPA</text>
<rect x="77.9" y="543.8" width="7.2" height="2.95" fill="#fff"/>
<path d="M77.9 543.8V546.75H85.1V543.8Z" fill="none" stroke="#000" stroke-width="1.2"/>
<rect x="86.7" y="532.5" width="7.5" height="14.25" fill="#848484"/>
<path d="M86.7 532.5V546.75H94.2V532.5Z" fill="none" stroke="#000" stroke-width="1.2"/>
<line x1="90.45" y1="537.5" x2="90.45" y2="527" stroke="#000" stroke-width="1.2" stroke-linecap="butt"/>
<line x1="87.95" y1="537.5" x2="92.95" y2="537.5" stroke="#000" stroke-width="1.2" stroke-linecap="butt"/>
<line x1="87.95" y1="527" x2="92.95" y2="527" stroke="#000" stroke-width="1.2" stroke-linecap="butt"/>
<rect x="103.8" y="543.3" width="6.8" height="3.45" fill="#fff"/>
<path d="M103.8 543.3V546.75H110.6V543.3Z" fill="none" stroke="#000" stroke-width="1.2"/>
<line x1="107.2" y1="544.3" x2="107.2" y2="542.3" stroke="#000" stroke-width="1.2" stroke-linecap="butt"/>
<line x1="104.95" y1="544.3" x2="109.45" y2="544.3" stroke="#000" stroke-width="1.2" stroke-linecap="butt"/>
<line x1="104.95" y1="542.3" x2="109.45" y2="542.3" stroke="#000" stroke-width="1.2" stroke-linecap="butt"/>
<rect x="112.7" y="520.5" width="7.5" height="26.25" fill="#848484"/>
<path d="M112.7 520.5V546.75H120.2V520.5Z" fill="none" stroke="#000" stroke-width="1.2"/>
<line x1="116.45" y1="531.3" x2="116.45" y2="509.5" stroke="#000" stroke-width="1.2" stroke-linecap="butt"/>
<line x1="113.95" y1="531.3" x2="118.95" y2="531.3" stroke="#000" stroke-width="1.2" stroke-linecap="butt"/>
<line x1="113.95" y1="509.5" x2="118.95" y2="509.5" stroke="#000" stroke-width="1.2" stroke-linecap="butt"/>
<rect x="129.2" y="545.3" width="7.4" height="1.45" fill="#fff"/>
<path d="M129.2 545.3V546.75H136.6V545.3Z" fill="none" stroke="#000" stroke-width="1.2"/>
<rect x="138.4" y="506.75" width="8" height="40" fill="#848484"/>
<path d="M138.4 506.75V546.75H146.4V506.75" fill="none" stroke="#000" stroke-width="1.2"/>
<rect x="138.4" y="498.3" width="8" height="0.95" fill="#848484"/>
<path d="M138.4 499.25V498.3H146.4V499.25" fill="none" stroke="#000" stroke-width="1.2"/>
<line x1="142.4" y1="498.8" x2="142.4" y2="497.8" stroke="#000" stroke-width="1.2" stroke-linecap="butt"/>
<line x1="139.9" y1="498.8" x2="144.9" y2="498.8" stroke="#000" stroke-width="1.2" stroke-linecap="butt"/>
<line x1="139.9" y1="497.8" x2="144.9" y2="497.8" stroke="#000" stroke-width="1.2" stroke-linecap="butt"/>
<rect x="155.4" y="543.3" width="7.5" height="3.45" fill="#fff"/>
<path d="M155.4 543.3V546.75H162.9V543.3Z" fill="none" stroke="#000" stroke-width="1.2"/>
<line x1="159.15" y1="543.8" x2="159.15" y2="542.8" stroke="#000" stroke-width="1.2" stroke-linecap="butt"/>
<line x1="156.9" y1="543.8" x2="161.4" y2="543.8" stroke="#000" stroke-width="1.2" stroke-linecap="butt"/>
<line x1="156.9" y1="542.8" x2="161.4" y2="542.8" stroke="#000" stroke-width="1.2" stroke-linecap="butt"/>
<rect x="164.7" y="506.75" width="7.4" height="40" fill="#848484"/>
<path d="M164.7 506.75V546.75H172.1V506.75" fill="none" stroke="#000" stroke-width="1.2"/>
<rect x="164.7" y="488.8" width="7.4" height="10.45" fill="#848484"/>
<path d="M164.7 499.25V488.8H172.1V499.25" fill="none" stroke="#000" stroke-width="1.2"/>
<line x1="168.4" y1="496.8" x2="168.4" y2="480.8" stroke="#000" stroke-width="1.2" stroke-linecap="butt"/>
<line x1="165.9" y1="496.8" x2="170.9" y2="496.8" stroke="#000" stroke-width="1.2" stroke-linecap="butt"/>
<line x1="165.9" y1="480.8" x2="170.9" y2="480.8" stroke="#000" stroke-width="1.2" stroke-linecap="butt"/>
<rect x="181.2" y="530.8" width="7.4" height="15.95" fill="#fff"/>
<path d="M181.2 530.8V546.75H188.6V530.8Z" fill="none" stroke="#000" stroke-width="1.2"/>
<line x1="184.9" y1="536.3" x2="184.9" y2="525.5" stroke="#000" stroke-width="1.2" stroke-linecap="butt"/>
<line x1="182.65" y1="536.3" x2="187.15" y2="536.3" stroke="#000" stroke-width="1.2" stroke-linecap="butt"/>
<line x1="182.65" y1="525.5" x2="187.15" y2="525.5" stroke="#000" stroke-width="1.2" stroke-linecap="butt"/>
<rect x="190.4" y="506.75" width="8" height="40" fill="#848484"/>
<path d="M190.4 506.75V546.75H198.4V506.75" fill="none" stroke="#000" stroke-width="1.2"/>
<rect x="190.4" y="463.25" width="8" height="36" fill="#848484"/>
<path d="M190.4 463.25V499.25M198.4 463.25V499.25" fill="none" stroke="#000" stroke-width="1.2"/>
<rect x="190.4" y="448" width="8" height="5.5" fill="#848484"/>
<path d="M190.4 453.5V448H198.4V453.5" fill="none" stroke="#000" stroke-width="1.2"/>
<line x1="194.4" y1="452" x2="194.4" y2="442.5" stroke="#000" stroke-width="1.2" stroke-linecap="butt"/>
<line x1="191.9" y1="452" x2="196.9" y2="452" stroke="#000" stroke-width="1.2" stroke-linecap="butt"/>
<line x1="191.9" y1="442.5" x2="196.9" y2="442.5" stroke="#000" stroke-width="1.2" stroke-linecap="butt"/>
<rect x="207.4" y="536.8" width="7.2" height="9.95" fill="#fff"/>
<path d="M207.4 536.8V546.75H214.6V536.8Z" fill="none" stroke="#000" stroke-width="1.2"/>
<line x1="211" y1="540" x2="211" y2="533.3" stroke="#000" stroke-width="1.2" stroke-linecap="butt"/>
<line x1="208.75" y1="540" x2="213.25" y2="540" stroke="#000" stroke-width="1.2" stroke-linecap="butt"/>
<line x1="208.75" y1="533.3" x2="213.25" y2="533.3" stroke="#000" stroke-width="1.2" stroke-linecap="butt"/>
<rect x="216.2" y="538.3" width="7.7" height="8.45" fill="#848484"/>
<path d="M216.2 538.3V546.75H223.9V538.3Z" fill="none" stroke="#000" stroke-width="1.2"/>
<line x1="220.05" y1="541.3" x2="220.05" y2="535.5" stroke="#000" stroke-width="1.2" stroke-linecap="butt"/>
<line x1="217.55" y1="541.3" x2="222.55" y2="541.3" stroke="#000" stroke-width="1.2" stroke-linecap="butt"/>
<line x1="217.55" y1="535.5" x2="222.55" y2="535.5" stroke="#000" stroke-width="1.2" stroke-linecap="butt"/>
<line x1="72.8" y1="546.75" x2="227.5" y2="546.75" stroke="#000" stroke-width="1.2" stroke-linecap="butt"/>
<line x1="86.2" y1="546.75" x2="86.2" y2="551.25" stroke="#000" stroke-width="1.2" stroke-linecap="butt"/>
<line x1="112.2" y1="546.75" x2="112.2" y2="551.25" stroke="#000" stroke-width="1.2" stroke-linecap="butt"/>
<line x1="137.5" y1="546.75" x2="137.5" y2="551.25" stroke="#000" stroke-width="1.2" stroke-linecap="butt"/>
<line x1="163.8" y1="546.75" x2="163.8" y2="551.25" stroke="#000" stroke-width="1.2" stroke-linecap="butt"/>
<line x1="189.5" y1="546.75" x2="189.5" y2="551.25" stroke="#000" stroke-width="1.2" stroke-linecap="butt"/>
<line x1="215.5" y1="546.75" x2="215.5" y2="551.25" stroke="#000" stroke-width="1.2" stroke-linecap="butt"/>
<text x="80.95" y="560.31" font-size="9.8" font-weight="bold" text-anchor="middle" transform="rotate(-45 80.95 556.8)">1:0</text>
<text x="101.6" y="565.41" font-size="9.8" font-weight="bold" text-anchor="middle" transform="rotate(-45 101.6 561.9)">1:0.1</text>
<text x="127.95" y="565.06" font-size="9.8" font-weight="bold" text-anchor="middle" transform="rotate(-45 127.95 561.55)">1:0.5</text>
<text x="156.75" y="563.01" font-size="9.8" font-weight="bold" text-anchor="middle" transform="rotate(-45 156.75 559.5)">1:1</text>
<text x="183" y="562.51" font-size="9.8" font-weight="bold" text-anchor="middle" transform="rotate(-45 183 559)">1:5</text>
<text x="217.8" y="554.6" font-size="10" font-weight="bold" text-anchor="end" transform="rotate(-45 217.8 554.6)">cALL</text>
<text x="193.7" y="440.16" font-size="12.4" text-anchor="middle" letter-spacing="0.6">**</text>
<text x="184.6" y="526.36" font-size="12.4" text-anchor="middle">*</text>
<path d="M73.8 572.5V577H182.5V572.5" fill="none" stroke="#000" stroke-width="1.2"/>
<text x="130.6" y="589.8" font-size="10" font-weight="bold" text-anchor="middle" textLength="66.5" lengthAdjust="spacingAndGlyphs">Mo:cALL ratio</text>
<line x1="339.6" y1="438.45" x2="339.6" y2="545.1" stroke="#000" stroke-width="1.2" stroke-linecap="butt"/>
<line x1="336.2" y1="439.05" x2="339.6" y2="439.05" stroke="#000" stroke-width="1.2" stroke-linecap="butt"/>
<text x="336" y="441.65" font-size="8" font-weight="bold" text-anchor="end">300</text>
<line x1="336.2" y1="474.2" x2="339.6" y2="474.2" stroke="#000" stroke-width="1.2" stroke-linecap="butt"/>
<text x="336" y="476.8" font-size="8" font-weight="bold" text-anchor="end">200</text>
<line x1="336.2" y1="509.35" x2="339.6" y2="509.35" stroke="#000" stroke-width="1.2" stroke-linecap="butt"/>
<text x="336" y="511.95" font-size="8" font-weight="bold" text-anchor="end">100</text>
<line x1="336.2" y1="544.5" x2="339.6" y2="544.5" stroke="#000" stroke-width="1.2" stroke-linecap="butt"/>
<text x="336" y="547.1" font-size="8" font-weight="bold" text-anchor="end">0</text>
<text x="316" y="491.5" font-size="9" font-weight="bold" text-anchor="middle" transform="rotate(-90 316 491.5)" textLength="64.5" lengthAdjust="spacingAndGlyphs">CXCL10 (pg/ml)</text>
<rect x="343.4" y="541.8" width="13.5" height="2.7" fill="#fff" stroke="#000" stroke-width="1.2"/>
<line x1="350.15" y1="541.9" x2="350.15" y2="540.9" stroke="#000" stroke-width="1.2" stroke-linecap="butt"/>
<line x1="347.15" y1="541.9" x2="353.15" y2="541.9" stroke="#000" stroke-width="1.2" stroke-linecap="butt"/>
<line x1="347.15" y1="540.9" x2="353.15" y2="540.9" stroke="#000" stroke-width="1.2" stroke-linecap="butt"/>
<rect x="364.8" y="537.4" width="13.7" height="7.1" fill="#fff" stroke="#000" stroke-width="1.2"/>
<line x1="371.65" y1="538" x2="371.65" y2="536" stroke="#000" stroke-width="1.2" stroke-linecap="butt"/>
<line x1="368.65" y1="538" x2="374.65" y2="538" stroke="#000" stroke-width="1.2" stroke-linecap="butt"/>
<line x1="368.65" y1="536" x2="374.65" y2="536" stroke="#000" stroke-width="1.2" stroke-linecap="butt"/>
<rect x="386.3" y="536.1" width="13" height="8.4" fill="#848484" stroke="#000" stroke-width="1.2"/>
<line x1="392.8" y1="540" x2="392.8" y2="531.3" stroke="#000" stroke-width="1.2" stroke-linecap="butt"/>
<line x1="389.3" y1="540" x2="396.3" y2="540" stroke="#000" stroke-width="1.2" stroke-linecap="butt"/>
<line x1="389.3" y1="531.3" x2="396.3" y2="531.3" stroke="#000" stroke-width="1.2" stroke-linecap="butt"/>
<rect x="407" y="473.2" width="13.6" height="71.3" fill="#848484" stroke="#000" stroke-width="1.2"/>
<line x1="413.8" y1="500.5" x2="413.8" y2="444.8" stroke="#000" stroke-width="1.2" stroke-linecap="butt"/>
<line x1="410.3" y1="500.5" x2="417.3" y2="500.5" stroke="#000" stroke-width="1.2" stroke-linecap="butt"/>
<line x1="410.3" y1="444.8" x2="417.3" y2="444.8" stroke="#000" stroke-width="1.2" stroke-linecap="butt"/>
<rect x="428.1" y="541.3" width="13.6" height="3.2" fill="url(#hatch)" stroke="#000" stroke-width="1.2"/>
<line x1="434.9" y1="541.4" x2="434.9" y2="540.4" stroke="#000" stroke-width="1.2" stroke-linecap="butt"/>
<line x1="431.4" y1="541.4" x2="438.4" y2="541.4" stroke="#000" stroke-width="1.2" stroke-linecap="butt"/>
<line x1="431.4" y1="540.4" x2="438.4" y2="540.4" stroke="#000" stroke-width="1.2" stroke-linecap="butt"/>
<rect x="449.1" y="508.6" width="13.7" height="35.9" fill="url(#hatch)" stroke="#000" stroke-width="1.2"/>
<line x1="455.95" y1="527" x2="455.95" y2="489" stroke="#000" stroke-width="1.2" stroke-linecap="butt"/>
<line x1="452.45" y1="527" x2="459.45" y2="527" stroke="#000" stroke-width="1.2" stroke-linecap="butt"/>
<line x1="452.45" y1="489" x2="459.45" y2="489" stroke="#000" stroke-width="1.2" stroke-linecap="butt"/>
<rect x="469.9" y="543.9" width="13.7" height="0.6" fill="#fff" stroke="#000" stroke-width="1.2"/>
<rect x="491.4" y="542.6" width="13.8" height="1.9" fill="#848484" stroke="#000" stroke-width="1.2"/>
<line x1="498.3" y1="542.7" x2="498.3" y2="541.7" stroke="#000" stroke-width="1.2" stroke-linecap="butt"/>
<line x1="494.8" y1="542.7" x2="501.8" y2="542.7" stroke="#000" stroke-width="1.2" stroke-linecap="butt"/>
<line x1="494.8" y1="541.7" x2="501.8" y2="541.7" stroke="#000" stroke-width="1.2" stroke-linecap="butt"/>
<line x1="339" y1="544.5" x2="509.3" y2="544.5" stroke="#000" stroke-width="1.2" stroke-linecap="butt"/>
<text x="412.7" y="444.56" font-size="12.4" text-anchor="middle">*</text>
<text x="456.4" y="488.96" font-size="12.4" text-anchor="middle">*</text>
<text x="311.5" y="554" font-size="9" font-weight="bold" textLength="16.5" lengthAdjust="spacingAndGlyphs">LPA</text>
<text x="350.3" y="555.4" font-size="10" font-weight="bold" text-anchor="middle">-</text>
<text x="392.8" y="555.4" font-size="10" font-weight="bold" text-anchor="middle">-</text>
<text x="434.9" y="555.4" font-size="10" font-weight="bold" text-anchor="middle">-</text>
<text x="476.7" y="555.4" font-size="10" font-weight="bold" text-anchor="middle">-</text>
<text x="371.6" y="556.2" font-size="9.6" font-weight="bold" text-anchor="middle">+</text>
<text x="413.8" y="556.2" font-size="9.6" font-weight="bold" text-anchor="middle">+</text>
<text x="456" y="556.2" font-size="9.6" font-weight="bold" text-anchor="middle">+</text>
<text x="498.3" y="556.2" font-size="9.6" font-weight="bold" text-anchor="middle">+</text>
<path d="M343.7 556.9V560.5H377.3V556.9" fill="none" stroke="#000" stroke-width="1.2"/>
<path d="M386.4 556.9V560.5H420.5V556.9" fill="none" stroke="#000" stroke-width="1.2"/>
<path d="M429.7 556.9V560.5H462.9V556.9" fill="none" stroke="#000" stroke-width="1.2"/>
<path d="M472.4 556.9V560.5H505.6V556.9" fill="none" stroke="#000" stroke-width="1.2"/>
<text x="361.2" y="570.3" font-size="8.6" font-weight="bold" text-anchor="middle" textLength="11.6" lengthAdjust="spacingAndGlyphs">Mo</text>
<text x="405.4" y="570.8" font-size="8.6" font-weight="bold" text-anchor="middle" textLength="11.6" lengthAdjust="spacingAndGlyphs">Mo</text>
<text x="405.2" y="580.3" font-size="7" font-weight="bold" text-anchor="middle">+</text>
<text x="405.6" y="589.8" font-size="8.4" font-weight="bold" text-anchor="middle" textLength="18" lengthAdjust="spacingAndGlyphs">cALL</text>
<text x="447.2" y="570.8" font-size="8.6" font-weight="bold" text-anchor="middle" textLength="11.6" lengthAdjust="spacingAndGlyphs">Mo</text>
<text x="447.2" y="580.3" font-size="7" font-weight="bold" text-anchor="middle">+</text>
<text x="447.3" y="589.8" font-size="8.4" font-weight="bold" text-anchor="middle" textLength="33.5" lengthAdjust="spacingAndGlyphs">preB ALL</text>
<text x="490.6" y="570" font-size="8.6" font-weight="bold" text-anchor="middle" textLength="11.6" lengthAdjust="spacingAndGlyphs">Mo</text>
<text x="490.6" y="579.8" font-size="7" font-weight="bold" text-anchor="middle">+</text>
<text x="490.7" y="588.8" font-size="8.4" font-weight="bold" text-anchor="middle" textLength="33" lengthAdjust="spacingAndGlyphs">Normal B</text>
<line x1="75" y1="610.05" x2="75" y2="669.25" stroke="#3a3a3a" stroke-width="0.9" stroke-linecap="butt"/>
<line x1="75" y1="678.75" x2="75" y2="722.05" stroke="#3a3a3a" stroke-width="0.9" stroke-linecap="butt"/>
<line x1="74.16" y1="669.25" x2="77.8" y2="669.25" stroke="#3a3a3a" stroke-width="0.9" stroke-linecap="butt"/>
<line x1="74.16" y1="678.75" x2="77.8" y2="678.75" stroke="#3a3a3a" stroke-width="0.9" stroke-linecap="butt"/>
<line x1="71.8" y1="610.5" x2="75" y2="610.5" stroke="#3a3a3a" stroke-width="0.9" stroke-linecap="butt"/>
<text x="70.6" y="613.6" font-size="8.6" text-anchor="end">150</text>
<line x1="71.8" y1="630.08" x2="75" y2="630.08" stroke="#3a3a3a" stroke-width="0.9" stroke-linecap="butt"/>
<text x="70.6" y="633.18" font-size="8.6" text-anchor="end">120</text>
<line x1="71.8" y1="649.67" x2="75" y2="649.67" stroke="#3a3a3a" stroke-width="0.9" stroke-linecap="butt"/>
<text x="70.6" y="652.76" font-size="8.6" text-anchor="end">90</text>
<line x1="71.8" y1="669.25" x2="75" y2="669.25" stroke="#3a3a3a" stroke-width="0.9" stroke-linecap="butt"/>
<text x="70.6" y="672.35" font-size="8.6" text-anchor="end">60</text>
<line x1="71.8" y1="687.28" x2="75" y2="687.28" stroke="#3a3a3a" stroke-width="0.9" stroke-linecap="butt"/>
<text x="70.6" y="690.38" font-size="8.6" text-anchor="end">4</text>
<line x1="71.8" y1="704.44" x2="75" y2="704.44" stroke="#3a3a3a" stroke-width="0.9" stroke-linecap="butt"/>
<text x="70.6" y="707.54" font-size="8.6" text-anchor="end">2</text>
<line x1="71.8" y1="721.6" x2="75" y2="721.6" stroke="#3a3a3a" stroke-width="0.9" stroke-linecap="butt"/>
<text x="70.6" y="724.7" font-size="8.6" text-anchor="end">0</text>
<rect x="81.3" y="713" width="12.5" height="8.6" fill="#848484"/>
<path d="M81.3 713V721.6H93.8V713Z" fill="none" stroke="#000" stroke-width="1.3"/>
<rect x="97.9" y="678.75" width="12.1" height="42.85" fill="#848484"/>
<path d="M97.9 678.75V721.6H110V678.75" fill="none" stroke="#000" stroke-width="1.3"/>
<rect x="97.9" y="655.5" width="12.1" height="13.75" fill="#848484"/>
<path d="M97.9 669.25V655.5H110V669.25" fill="none" stroke="#000" stroke-width="1.3"/>
<line x1="103.95" y1="658" x2="103.95" y2="653.3" stroke="#000" stroke-width="1.2" stroke-linecap="butt"/>
<line x1="100.45" y1="658" x2="107.45" y2="658" stroke="#000" stroke-width="1.2" stroke-linecap="butt"/>
<line x1="100.45" y1="653.3" x2="107.45" y2="653.3" stroke="#000" stroke-width="1.2" stroke-linecap="butt"/>
<rect x="122.8" y="700.5" width="12.4" height="21.1" fill="#848484"/>
<path d="M122.8 700.5V721.6H135.2V700.5Z" fill="none" stroke="#000" stroke-width="1.3"/>
<line x1="129" y1="703.3" x2="129" y2="697.5" stroke="#000" stroke-width="1.2" stroke-linecap="butt"/>
<line x1="125.5" y1="703.3" x2="132.5" y2="703.3" stroke="#000" stroke-width="1.2" stroke-linecap="butt"/>
<line x1="125.5" y1="697.5" x2="132.5" y2="697.5" stroke="#000" stroke-width="1.2" stroke-linecap="butt"/>
<rect x="139.1" y="678.75" width="12.4" height="42.85" fill="#848484"/>
<path d="M139.1 678.75V721.6H151.5V678.75" fill="none" stroke="#000" stroke-width="1.3"/>
<rect x="139.1" y="633" width="12.4" height="36.25" fill="#848484"/>
<path d="M139.1 669.25V633H151.5V669.25" fill="none" stroke="#000" stroke-width="1.3"/>
<line x1="145.3" y1="636.3" x2="145.3" y2="630" stroke="#000" stroke-width="1.2" stroke-linecap="butt"/>
<line x1="141.8" y1="636.3" x2="148.8" y2="636.3" stroke="#000" stroke-width="1.2" stroke-linecap="butt"/>
<line x1="141.8" y1="630" x2="148.8" y2="630" stroke="#000" stroke-width="1.2" stroke-linecap="butt"/>
<line x1="71.8" y1="721.6" x2="158" y2="721.6" stroke="#3a3a3a" stroke-width="0.9" stroke-linecap="butt"/>
<text x="40.6" y="666" font-size="9.4" font-weight="bold" text-anchor="middle" transform="rotate(-90 40.6 666)" textLength="35.5" lengthAdjust="spacingAndGlyphs">CXCL10</text>
<text x="51.2" y="666.3" font-size="9.2" text-anchor="middle" transform="rotate(-90 51.2 666.3)" textLength="97.5" lengthAdjust="spacingAndGlyphs">(Fold change wrt unt Mo)</text>
<text x="54.3" y="735" font-size="8.8" font-weight="bold" textLength="15.8" lengthAdjust="spacingAndGlyphs">LPA</text>
<text x="87.5" y="733.6" font-size="10" text-anchor="middle">-</text>
<text x="127.5" y="733.6" font-size="10" text-anchor="middle">-</text>
<text x="104.5" y="734.4" font-size="10" text-anchor="middle">+</text>
<text x="147.5" y="734.4" font-size="10" text-anchor="middle">+</text>
<path d="M78.8 732.2V735.8H113.2V732.2" fill="none" stroke="#000" stroke-width="1.2"/>
<path d="M120 732.2V735.8H154.5V732.2" fill="none" stroke="#000" stroke-width="1.2"/>
<text x="96.5" y="747" font-size="8.8" font-weight="bold" text-anchor="middle" textLength="13" lengthAdjust="spacingAndGlyphs">Mo</text>
<text x="137.9" y="747" font-size="8.8" font-weight="bold" text-anchor="middle" textLength="35.8" lengthAdjust="spacingAndGlyphs">Mo+REH</text>
<text x="128.6" y="695.57" font-size="9.5" font-weight="bold" text-anchor="middle">*</text>
<text x="144.9" y="626.27" font-size="9.5" font-weight="bold" text-anchor="middle" letter-spacing="0.2">**</text>
<line x1="206.1" y1="613.75" x2="206.1" y2="671.5" stroke="#000" stroke-width="0.9" stroke-linecap="butt"/>
<line x1="206.1" y1="679.3" x2="206.1" y2="719.7" stroke="#000" stroke-width="0.9" stroke-linecap="butt"/>
<line x1="205.26" y1="671.5" x2="208.9" y2="671.5" stroke="#000" stroke-width="0.9" stroke-linecap="butt"/>
<line x1="205.26" y1="679.3" x2="208.9" y2="679.3" stroke="#000" stroke-width="0.9" stroke-linecap="butt"/>
<line x1="202.9" y1="614.2" x2="206.1" y2="614.2" stroke="#000" stroke-width="0.9" stroke-linecap="butt"/>
<text x="202.6" y="616.83" font-size="7.3" text-anchor="end">2400</text>
<line x1="202.9" y1="632.47" x2="206.1" y2="632.47" stroke="#000" stroke-width="0.9" stroke-linecap="butt"/>
<text x="202.6" y="635.09" font-size="7.3" text-anchor="end">1700</text>
<line x1="202.9" y1="650.73" x2="206.1" y2="650.73" stroke="#000" stroke-width="0.9" stroke-linecap="butt"/>
<text x="202.6" y="653.36" font-size="7.3" text-anchor="end">1000</text>
<line x1="202.9" y1="669" x2="206.1" y2="669" stroke="#000" stroke-width="0.9" stroke-linecap="butt"/>
<text x="202.6" y="671.63" font-size="7.3" text-anchor="end">300</text>
<line x1="202.9" y1="679.25" x2="206.1" y2="679.25" stroke="#000" stroke-width="0.9" stroke-linecap="butt"/>
<text x="202.6" y="681.88" font-size="7.3" text-anchor="end">60</text>
<line x1="202.9" y1="692.58" x2="206.1" y2="692.58" stroke="#000" stroke-width="0.9" stroke-linecap="butt"/>
<text x="202.6" y="695.21" font-size="7.3" text-anchor="end">40</text>
<line x1="202.9" y1="705.92" x2="206.1" y2="705.92" stroke="#000" stroke-width="0.9" stroke-linecap="butt"/>
<text x="202.6" y="708.54" font-size="7.3" text-anchor="end">20</text>
<line x1="202.9" y1="719.25" x2="206.1" y2="719.25" stroke="#000" stroke-width="0.9" stroke-linecap="butt"/>
<text x="202.6" y="721.88" font-size="7.3" text-anchor="end">0</text>
<rect x="211.5" y="718.5" width="12.5" height="0.75" fill="#848484"/>
<path d="M211.5 718.5V719.25H224V718.5Z" fill="none" stroke="#000" stroke-width="1.3"/>
<rect x="230.8" y="679.3" width="10.9" height="39.95" fill="#848484"/>
<path d="M230.8 679.3V719.25H241.7V679.3" fill="none" stroke="#000" stroke-width="1.3"/>
<rect x="230.8" y="661.2" width="10.9" height="10.3" fill="#848484"/>
<path d="M230.8 671.5V661.2H241.7V671.5" fill="none" stroke="#000" stroke-width="1.3"/>
<line x1="236.25" y1="664.3" x2="236.25" y2="658.8" stroke="#000" stroke-width="1.2" stroke-linecap="butt"/>
<line x1="232.75" y1="664.3" x2="239.75" y2="664.3" stroke="#000" stroke-width="1.2" stroke-linecap="butt"/>
<line x1="232.75" y1="658.8" x2="239.75" y2="658.8" stroke="#000" stroke-width="1.2" stroke-linecap="butt"/>
<rect x="254.7" y="712.4" width="11.6" height="6.85" fill="#848484"/>
<path d="M254.7 712.4V719.25H266.3V712.4Z" fill="none" stroke="#000" stroke-width="1.3"/>
<line x1="260.5" y1="713.1" x2="260.5" y2="711.7" stroke="#000" stroke-width="1.2" stroke-linecap="butt"/>
<line x1="257" y1="713.1" x2="264" y2="713.1" stroke="#000" stroke-width="1.2" stroke-linecap="butt"/>
<line x1="257" y1="711.7" x2="264" y2="711.7" stroke="#000" stroke-width="1.2" stroke-linecap="butt"/>
<rect x="273.2" y="679.3" width="11.5" height="39.95" fill="#848484"/>
<path d="M273.2 679.3V719.25H284.7V679.3" fill="none" stroke="#000" stroke-width="1.3"/>
<rect x="273.2" y="636.6" width="11.5" height="34.9" fill="#848484"/>
<path d="M273.2 671.5V636.6H284.7V671.5" fill="none" stroke="#000" stroke-width="1.3"/>
<line x1="278.95" y1="639.3" x2="278.95" y2="634.3" stroke="#000" stroke-width="1.2" stroke-linecap="butt"/>
<line x1="275.45" y1="639.3" x2="282.45" y2="639.3" stroke="#000" stroke-width="1.2" stroke-linecap="butt"/>
<line x1="275.45" y1="634.3" x2="282.45" y2="634.3" stroke="#000" stroke-width="1.2" stroke-linecap="butt"/>
<line x1="202.9" y1="719.25" x2="292.5" y2="719.25" stroke="#000" stroke-width="0.9" stroke-linecap="butt"/>
<text x="180.4" y="732.2" font-size="8.8" font-weight="bold" textLength="15.8" lengthAdjust="spacingAndGlyphs">LPA</text>
<text x="218" y="732" font-size="10" font-weight="bold" text-anchor="middle">-</text>
<text x="260.5" y="732" font-size="10" font-weight="bold" text-anchor="middle">-</text>
<text x="235.5" y="732.6" font-size="10" font-weight="bold" text-anchor="middle">+</text>
<text x="278" y="732.6" font-size="10" font-weight="bold" text-anchor="middle">+</text>
<path d="M212.5 731.6V734.2H242.5V731.6" fill="none" stroke="#000" stroke-width="1.2"/>
<path d="M253 731.6V734.2H287.5V731.6" fill="none" stroke="#000" stroke-width="1.2"/>
<text x="226.9" y="744.2" font-size="8.6" font-weight="bold" text-anchor="middle" textLength="11.3" lengthAdjust="spacingAndGlyphs">Mo</text>
<text x="269.9" y="744.2" font-size="8.6" font-weight="bold" text-anchor="middle" textLength="46.2" lengthAdjust="spacingAndGlyphs">Mo+RS4;11</text>
<text x="260.3" y="709.47" font-size="9.5" font-weight="bold" text-anchor="middle">*</text>
<text x="278.9" y="632.57" font-size="9.5" font-weight="bold" text-anchor="middle" letter-spacing="0.2">**</text>
<line x1="339.9" y1="614.65" x2="339.9" y2="682.8" stroke="#000" stroke-width="0.9" stroke-linecap="butt"/>
<line x1="339.9" y1="689.4" x2="339.9" y2="720.35" stroke="#000" stroke-width="0.9" stroke-linecap="butt"/>
<line x1="339.06" y1="682.8" x2="342.7" y2="682.8" stroke="#000" stroke-width="0.9" stroke-linecap="butt"/>
<line x1="339.06" y1="689.4" x2="342.7" y2="689.4" stroke="#000" stroke-width="0.9" stroke-linecap="butt"/>
<line x1="336.7" y1="615.1" x2="339.9" y2="615.1" stroke="#000" stroke-width="0.9" stroke-linecap="butt"/>
<text x="336.4" y="617.66" font-size="7.1" text-anchor="end">800</text>
<line x1="336.7" y1="634.4" x2="339.9" y2="634.4" stroke="#000" stroke-width="0.9" stroke-linecap="butt"/>
<text x="336.4" y="636.96" font-size="7.1" text-anchor="end">600</text>
<line x1="336.7" y1="653.7" x2="339.9" y2="653.7" stroke="#000" stroke-width="0.9" stroke-linecap="butt"/>
<text x="336.4" y="656.26" font-size="7.1" text-anchor="end">400</text>
<line x1="336.7" y1="673" x2="339.9" y2="673" stroke="#000" stroke-width="0.9" stroke-linecap="butt"/>
<text x="336.4" y="675.56" font-size="7.1" text-anchor="end">200</text>
<line x1="336.7" y1="689.4" x2="339.9" y2="689.4" stroke="#000" stroke-width="0.9" stroke-linecap="butt"/>
<text x="336.4" y="691.96" font-size="7.1" text-anchor="end">5.0</text>
<line x1="336.7" y1="704.65" x2="339.9" y2="704.65" stroke="#000" stroke-width="0.9" stroke-linecap="butt"/>
<text x="336.4" y="707.21" font-size="7.1" text-anchor="end">2.5</text>
<line x1="336.7" y1="719.9" x2="339.9" y2="719.9" stroke="#000" stroke-width="0.9" stroke-linecap="butt"/>
<text x="336.4" y="722.46" font-size="7.1" text-anchor="end">0.0</text>
<rect x="345.6" y="713.6" width="11.8" height="6.3" fill="#848484"/>
<path d="M345.6 713.6V719.9H357.4V713.6Z" fill="none" stroke="#000" stroke-width="1.3"/>
<rect x="364.3" y="689.4" width="11.2" height="30.5" fill="#848484"/>
<path d="M364.3 689.4V719.9H375.5V689.4" fill="none" stroke="#000" stroke-width="1.3"/>
<rect x="364.3" y="655.5" width="11.2" height="27.3" fill="#848484"/>
<path d="M364.3 682.8V655.5H375.5V682.8" fill="none" stroke="#000" stroke-width="1.3"/>
<line x1="369.9" y1="662" x2="369.9" y2="649.3" stroke="#000" stroke-width="1.2" stroke-linecap="butt"/>
<line x1="366.4" y1="662" x2="373.4" y2="662" stroke="#000" stroke-width="1.2" stroke-linecap="butt"/>
<line x1="366.4" y1="649.3" x2="373.4" y2="649.3" stroke="#000" stroke-width="1.2" stroke-linecap="butt"/>
<rect x="387.8" y="702.5" width="11.9" height="17.4" fill="#848484"/>
<path d="M387.8 702.5V719.9H399.7V702.5Z" fill="none" stroke="#000" stroke-width="1.3"/>
<line x1="393.75" y1="706.8" x2="393.75" y2="698.8" stroke="#000" stroke-width="1.2" stroke-linecap="butt"/>
<line x1="390.25" y1="706.8" x2="397.25" y2="706.8" stroke="#000" stroke-width="1.2" stroke-linecap="butt"/>
<line x1="390.25" y1="698.8" x2="397.25" y2="698.8" stroke="#000" stroke-width="1.2" stroke-linecap="butt"/>
<rect x="406.1" y="689.4" width="11.9" height="30.5" fill="#848484"/>
<path d="M406.1 689.4V719.9H418V689.4" fill="none" stroke="#000" stroke-width="1.3"/>
<rect x="406.1" y="637.5" width="11.9" height="45.3" fill="#848484"/>
<path d="M406.1 682.8V637.5H418V682.8" fill="none" stroke="#000" stroke-width="1.3"/>
<line x1="412.05" y1="646.3" x2="412.05" y2="628.3" stroke="#000" stroke-width="1.2" stroke-linecap="butt"/>
<line x1="408.55" y1="646.3" x2="415.55" y2="646.3" stroke="#000" stroke-width="1.2" stroke-linecap="butt"/>
<line x1="408.55" y1="628.3" x2="415.55" y2="628.3" stroke="#000" stroke-width="1.2" stroke-linecap="butt"/>
<line x1="336.7" y1="719.9" x2="423" y2="719.9" stroke="#000" stroke-width="0.9" stroke-linecap="butt"/>
<text x="317.3" y="731" font-size="8.8" font-weight="bold" textLength="15.4" lengthAdjust="spacingAndGlyphs">LPA</text>
<text x="350.8" y="730.8" font-size="10" font-weight="bold" text-anchor="middle">-</text>
<text x="393" y="730.8" font-size="10" font-weight="bold" text-anchor="middle">-</text>
<text x="370" y="731.4" font-size="10" font-weight="bold" text-anchor="middle">+</text>
<text x="412" y="731.4" font-size="10" font-weight="bold" text-anchor="middle">+</text>
<path d="M345 730.8V733.6H377V730.8" fill="none" stroke="#000" stroke-width="1.2"/>
<path d="M388 730.8V733.6H420V730.8" fill="none" stroke="#000" stroke-width="1.2"/>
<text x="360.8" y="744" font-size="8.6" font-weight="bold" text-anchor="middle" textLength="11.3" lengthAdjust="spacingAndGlyphs">Mo</text>
<text x="402.5" y="744" font-size="8.6" font-weight="bold" text-anchor="middle" textLength="43.5" lengthAdjust="spacingAndGlyphs">Mo+NALM6</text>
<text x="393.8" y="696.57" font-size="9.5" font-weight="bold" text-anchor="middle">*</text>
<text x="411.9" y="626.07" font-size="9.5" font-weight="bold" text-anchor="middle" letter-spacing="0.2">**</text>
</svg>
</body></html>
